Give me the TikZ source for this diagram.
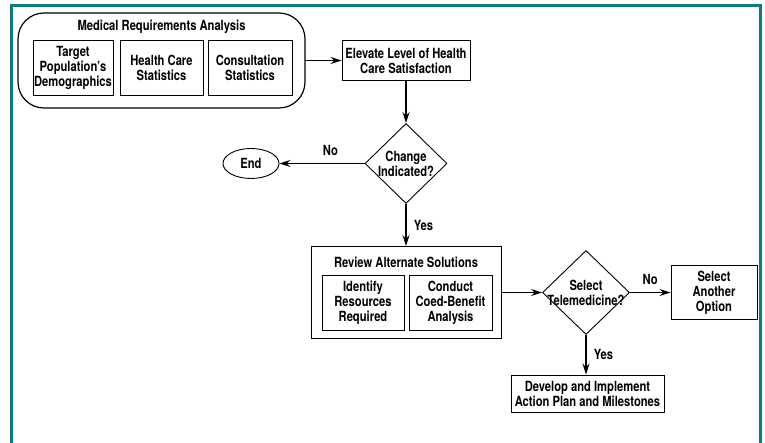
\documentclass[tikz,border=0pt]{standalone}
\usepackage{fontspec}
\setmainfont{TeX Gyre Heros}[FakeStretch=0.8]
\usepackage{tikz}
\usetikzlibrary{shapes.geometric,arrows.meta,positioning}
\definecolor{frameteal}{RGB}{18,124,124}

\begin{document}
\begin{tikzpicture}[->,>={Stealth[length=11pt,width=7pt]},line width=1.6pt,on grid,x=1pt,y=-1pt,auto,
    font=\fontsize{14}{15}\selectfont\bfseries,
    box/.style={draw,rectangle,line width=0.9pt,align=center,inner sep=0pt},
    decision/.style={draw,diamond,line width=0.9pt,inner sep=0pt,aspect=1},
    lbl/.style={inner sep=7pt}]
    \useasboundingbox (0,0) rectangle (765,443);
    % frame
    \draw[-,frameteal,line width=3pt] (11,443) -- (11,6) -- (760,6) -- (760,443);
    %% node
    \node (mra) [box,rounded corners=26pt,line width=1.2pt,minimum width=287pt,minimum height=95pt] at (161.5,60.5) {};
    \node (mratitle) [yshift=-14pt] at (mra.north) {Medical Requirements Analysis};
    \node (hcs) [box,below=7pt of mra,minimum width=83pt,minimum height=55pt] {Health Care\\Statistics};
    \node (demog) [box,left=88.5pt of hcs,minimum width=80pt,minimum height=55pt] {Target\\Population's\\Demographics};
    \node (cons) [box,right=88.5pt of hcs,minimum width=84pt,minimum height=55pt] {Consultation\\Statistics};
    \node (elev) [box,right=244.5pt of mra,minimum width=128pt,minimum height=40pt] {Elevate Level of Health\\Care Satisfaction};
    \node (chg) [decision,below=103pt of elev,minimum width=82pt,minimum height=80pt,
      label={[align=center]center:Change\\Indicated?}] {};
    \node (end) [draw,ellipse,line width=0.9pt,inner sep=0pt,left=155pt of chg,minimum width=56pt,minimum height=30pt] {End};
    \node (review) [box,below=129pt of chg,minimum width=190pt,minimum height=92pt] {};
    \node (revtitle) [above=30pt of review] {Review Alternate Solutions};
    \node (ident) [box,below=10.5pt of review,xshift=-43pt,minimum width=82pt,minimum height=55pt] {Identify\\Resources\\Required};
    \node (cba) [box,below=10.5pt of review,xshift=44.5pt,minimum width=83pt,minimum height=55pt] {Conduct\\Coed-Benefit\\Analysis};
    \node (tele) [decision,right=180pt of review,minimum width=87pt,minimum height=84pt,
      label={[align=center]center:Select\\Telemedicine?}] {};
    \node (other) [box,right=128pt of tele,minimum width=86pt,minimum height=54pt] {Select\\Another\\Option};
    \node (devel) [box,below=101pt of tele,xshift=1.5pt,minimum width=153pt,minimum height=37pt] {Develop and Implement\\Action Plan and Milestones};
    %% path
    \path (mra) edge (elev)
      (elev) edge (chg)
      (chg) edge node[lbl,swap,pos=0.4] {No} (end)
      (chg) edge node[lbl] {Yes} (review)
      (review) edge (tele)
      (tele) edge node[lbl] {No} (other)
      (tele.south) edge node[lbl] {Yes} (tele.south |- devel.north);
\end{tikzpicture}
\end{document}
